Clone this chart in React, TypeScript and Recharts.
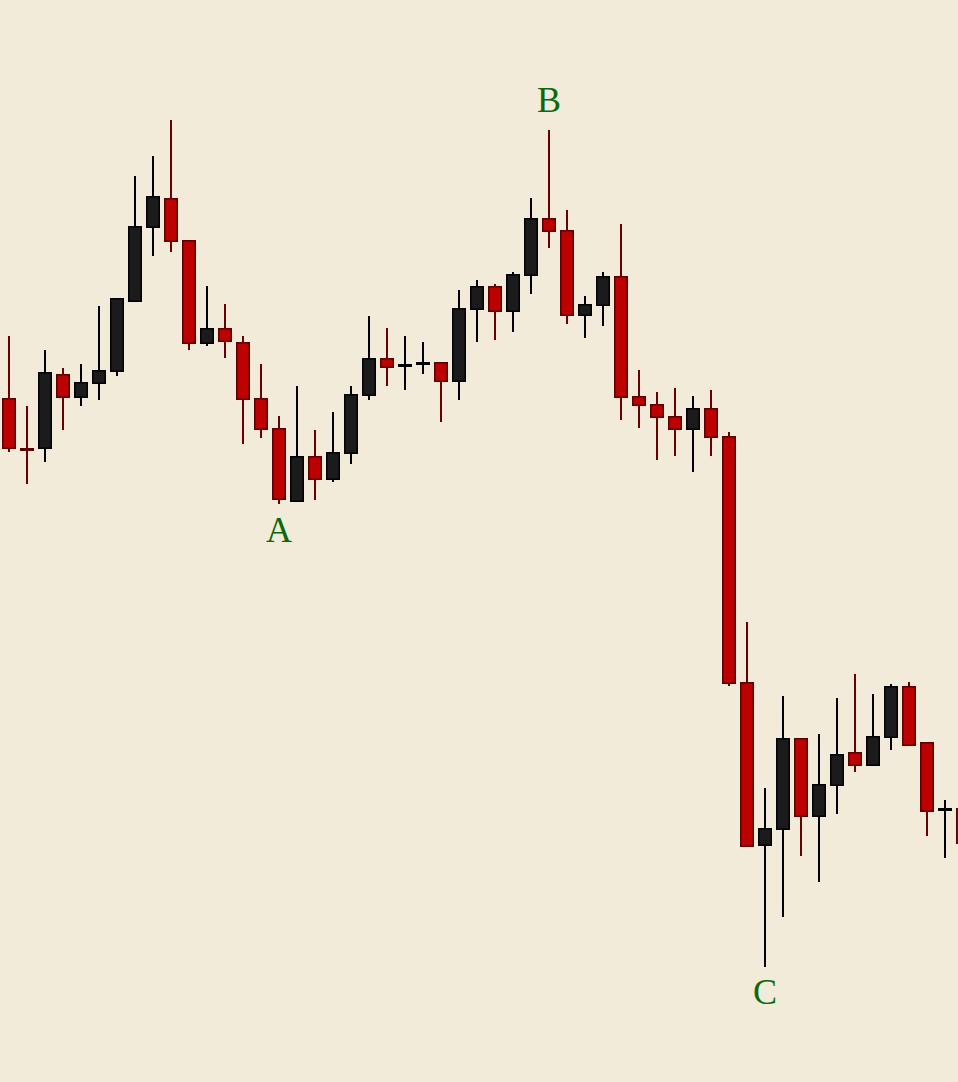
import React from 'react';
import { ComposedChart, Bar, XAxis, YAxis, ReferenceDot } from 'recharts';

// one entry per session, left to right
const days = [
  'D01', 'D02', 'D03', 'D04', 'D05', 'D06', 'D07', 'D08', 'D09', 'D10',
  'D11', 'D12', 'D13', 'D14', 'D15', 'D16', 'D17', 'D18', 'D19', 'D20',
  'D21', 'D22', 'D23', 'D24', 'D25', 'D26', 'D27', 'D28', 'D29', 'D30',
  'D31', 'D32', 'D33', 'D34', 'D35', 'D36', 'D37', 'D38', 'D39', 'D40',
  'D41', 'D42', 'D43', 'D44', 'D45', 'D46', 'D47', 'D48', 'D49', 'D50',
  'D51', 'D52', 'D53', 'D54',
];

const opens = [
  68.4, 63.4, 63.3, 70.8, 68.4, 69.8, 71.0, 78.0, 85.4, 88.4,
  84.2, 73.8, 75.4, 74.0, 68.4, 65.4, 58.0, 62.6, 60.2, 62.8,
  68.6, 72.4, 71.5, 71.7, 72.0, 70.0, 77.2, 79.6, 77.0, 80.6,
  86.4, 85.2, 76.6, 77.6, 80.6, 68.6, 67.8, 66.6, 65.2, 67.4,
  64.6, 40.0, 23.6, 25.2, 34.4, 26.5, 29.6, 33.0, 31.6, 34.4,
  39.6, 34.0, 27.1, 27.4,
];

const highs = [
  74.6, 67.6, 73.2, 71.4, 71.8, 77.6, 78.4, 90.6, 92.6, 96.2,
  84.2, 79.6, 77.8, 74.6, 71.8, 66.6, 69.6, 65.2, 67.0, 69.6,
  76.6, 75.4, 74.6, 74.0, 72.0, 79.2, 80.2, 79.8, 81.0, 88.4,
  95.2, 87.2, 78.6, 81.0, 85.8, 71.2, 69.0, 69.4, 68.6, 69.2,
  65.0, 46.0, 29.4, 38.6, 34.4, 34.8, 38.4, 40.8, 38.8, 39.8,
  40.0, 34.0, 28.2, 27.6,
];

const lows = [
  63.0, 59.8, 62.0, 65.2, 67.6, 68.2, 70.6, 78.0, 82.6, 83.0,
  73.2, 73.6, 72.4, 63.8, 64.4, 57.8, 58.0, 58.2, 60.0, 61.8,
  68.2, 69.6, 69.2, 70.8, 66.0, 68.2, 74.0, 74.2, 75.0, 78.8,
  83.4, 75.8, 74.4, 75.6, 66.2, 65.4, 62.2, 62.6, 61.0, 62.6,
  39.6, 23.5, 11.5, 16.5, 22.6, 20.0, 26.8, 31.0, 31.6, 33.2,
  33.6, 24.6, 22.4, 23.2,
];

const closes = [
  63.3, 63.1, 71.0, 68.4, 70.0, 71.2, 78.4, 85.6, 88.6, 84.0,
  73.8, 75.4, 74.0, 68.2, 65.2, 58.2, 62.6, 60.2, 63.0, 68.8,
  72.4, 71.4, 71.8, 72.0, 70.0, 77.4, 79.6, 77.0, 80.8, 86.4,
  85.0, 76.6, 77.8, 80.6, 68.4, 67.6, 66.4, 65.2, 67.4, 64.4,
  39.8, 23.5, 25.4, 34.4, 26.5, 29.8, 32.8, 31.6, 34.6, 39.6,
  33.6, 27.0, 27.4, 23.8,
];

// swing points marked on the chart
const swingLabels = ['A', 'B', 'C'];
const swingDays = ['D16', 'D31', 'D43'];
const swingPrices = [54.0, 97.0, 7.8];

const data = days.map((day, i) => ({
  day,
  open: opens[i],
  high: highs[i],
  low: lows[i],
  close: closes[i],
}));

const BG = '#f3ebda';

const Candle = (props: any) => {
  const { x, y, width, height, payload } = props;
  const top = Math.min(y, y + height);
  const bottom = Math.max(y, y + height);
  const span = payload.high - payload.low || 1;
  const toPx = (v: number) => top + ((payload.high - v) / span) * (bottom - top);

  const up = payload.close >= payload.open;
  const cx = x + width / 2;
  const bodyTop = toPx(Math.max(payload.open, payload.close));
  const bodyBottom = toPx(Math.min(payload.open, payload.close));
  const wick = up ? '#000000' : '#6a0000';

  return (
    <g>
      <line x1={cx} x2={cx} y1={top} y2={bottom} stroke={wick} strokeWidth={2} />
      <rect
        x={x + 0.75}
        y={bodyTop + 0.75}
        width={width - 1.5}
        height={Math.max(bodyBottom - bodyTop - 1.5, 1)}
        fill={up ? '#1b1b1b' : '#bd0000'}
        stroke={up ? '#000000' : '#5c0000'}
        strokeWidth={1.5}
      />
    </g>
  );
};

const App: React.FC = () => {
  return (
    <div style={{ position: 'absolute', left: 0, top: 0, width: 958, height: 1082, overflow: 'hidden', background: BG }}>
      <ComposedChart
        width={972}
        height={1082}
        data={data}
        margin={{ top: 0, right: 0, left: 0, bottom: 0 }}
      >
        <XAxis dataKey="day" hide />
        <YAxis hide domain={[0, 108.2]} />
        <Bar
          dataKey={(d: any) => [d.low, d.high]}
          barSize={14}
          shape={<Candle />}
          isAnimationActive={false}
        />
        {swingLabels.map((label, i) => (
          <ReferenceDot
            key={label}
            x={swingDays[i]}
            y={swingPrices[i]}
            r={0}
            shape={(p: any) => (
              <text
                x={p.cx}
                y={p.cy}
                textAnchor="middle"
                fill="#0a6a0a"
                fontSize={36}
                fontFamily="'Liberation Serif', 'DejaVu Serif', serif"
              >
                {label}
              </text>
            )}
          />
        ))}
      </ComposedChart>
    </div>
  );
};

export default App;
